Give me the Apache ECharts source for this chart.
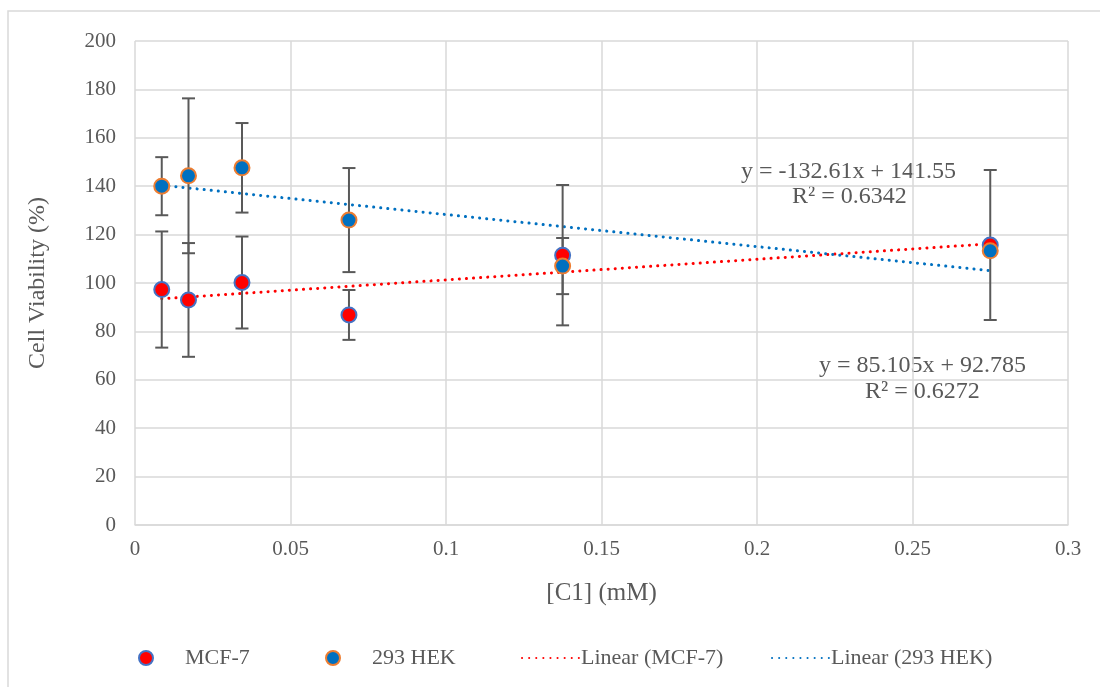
<!DOCTYPE html>
<html>
<head>
<meta charset="utf-8">
<script src="https://cdn.jsdelivr.net/npm/echarts@6/dist/echarts.min.js"></script>
<style>
  html, body { margin: 0; padding: 0; background: #fff; }
  #chart { width: 1100px; height: 687px; }
</style>
</head>
<body>
<div id="chart"></div>
<script>
// concentrations (mM)
var conc = [0.0086, 0.0172, 0.0344, 0.0688, 0.1375, 0.275];
// MCF-7 viability and error
var mcfVal = [97.3, 93.0, 100.2, 86.8, 111.5, 115.7];
var mcfErr = [24, 23.5, 19, 10.3, 29, 31];
// 293 HEK viability and error
var hekVal = [140.0, 144.3, 147.6, 126.0, 107.0, 113.3];
var hekErr = [12, 32, 18.5, 21.5, 11.6, 0];
// trendline end points
var mcfTrend = [[0.0086, 93.5], [0.275, 116.2]];
var hekTrend = [[0.0086, 140.4], [0.275, 105.1]];

var font = 'Liberation Serif, Times New Roman, serif';
var grey = '#595959';

function pts(vals) {
    return conc.map(function (c, i) { return [c, vals[i]]; });
}
function errPts(vals, errs) {
    return conc.map(function (c, i) { return [c, vals[i], errs[i]]; });
}

function errorBars(params, api) {
    var x = api.value(0), y = api.value(1), e = api.value(2);
    var hi = api.coord([x, y + e]);
    var lo = api.coord([x, y - e]);
    var w = 6.5;
    var st = { stroke: grey, lineWidth: 2 };
    return {
        type: 'group',
        children: [
            { type: 'line', shape: { x1: hi[0], y1: hi[1], x2: lo[0], y2: lo[1] }, style: st },
            { type: 'line', shape: { x1: hi[0] - w, y1: hi[1], x2: hi[0] + w, y2: hi[1] }, style: st },
            { type: 'line', shape: { x1: lo[0] - w, y1: lo[1], x2: lo[0] + w, y2: lo[1] }, style: st }
        ]
    };
}

var chart = echarts.init(document.getElementById('chart'));

var legendText = { fontFamily: font, fontSize: 22, color: grey };
function mkLegend(left, w, item, pad) {
    var lg = {
        left: left,
        bottom: 13,
        itemWidth: w,
        itemHeight: 14,
        selectedMode: false,
        textStyle: Object.assign({}, legendText, { padding: [0, 0, 0, pad] }),
        data: [item]
    };
    // hide the symbol drawn on the line icons
    if (w > 20) lg.itemStyle = { opacity: 0 };
    return lg;
}

var option = {
    animation: false,
    graphic: [{
        type: 'rect',
        shape: { x: 8, y: 11, width: 1100, height: 690 },
        style: { fill: 'none', stroke: '#d9d9d9', lineWidth: 1.5 },
        silent: true
    }, {
        type: 'text', left: 741, top: 160,
        style: { text: 'y = -132.61x + 141.55', font: '24px ' + font, fill: grey }
    }, {
        type: 'text', left: 792, top: 185,
        style: { text: 'R² = 0.6342', font: '24px ' + font, fill: grey }
    }, {
        type: 'text', left: 819, top: 354,
        style: { text: 'y = 85.105x + 92.785', font: '24px ' + font, fill: grey }
    }, {
        type: 'text', left: 865, top: 380,
        style: { text: 'R² = 0.6272', font: '24px ' + font, fill: grey }
    }],
    grid: { left: 135, right: 32, top: 41, bottom: 162 },
    legend: [
        mkLegend(133, 14, { name: 'MCF-7', icon: 'circle' }, 27),
        mkLegend(320, 14, { name: '293 HEK', icon: 'circle' }, 27),
        mkLegend(516, 58, 'Linear (MCF-7)', -4),
        mkLegend(766, 58, 'Linear (293 HEK)', -4)
    ],
    xAxis: {
        type: 'value', min: 0, max: 0.3, interval: 0.05,
        name: '[C1] (mM)', nameLocation: 'middle', nameGap: 56,
        nameTextStyle: { fontFamily: font, fontSize: 25, color: grey },
        axisLine: { lineStyle: { color: '#d9d9d9', width: 1.5 } },
        axisTick: { show: false },
        axisLabel: { fontFamily: font, fontSize: 21, color: grey, margin: 14 },
        splitLine: { lineStyle: { color: '#d9d9d9', width: 1.5 } }
    },
    yAxis: {
        type: 'value', min: 0, max: 200, interval: 20,
        name: 'Cell Viability (%)', nameLocation: 'middle', nameGap: 85,
        nameTextStyle: { fontFamily: font, fontSize: 24, color: grey },
        axisLine: { show: false },
        axisTick: { show: false },
        axisLabel: { fontFamily: font, fontSize: 21, color: grey, margin: 19 },
        splitLine: { lineStyle: { color: '#d9d9d9', width: 1.5 } }
    },
    series: [{
        name: 'Linear (MCF-7)',
        type: 'line',
        data: mcfTrend,
        symbol: 'none',
        lineStyle: { color: '#ff0000', width: 3, type: [0.1, 7], cap: 'round' },
        itemStyle: { color: '#ff0000' },
        z: 3
    }, {
        name: 'Linear (293 HEK)',
        type: 'line',
        data: hekTrend,
        symbol: 'none',
        lineStyle: { color: '#0070c0', width: 3, type: [0.1, 7], cap: 'round' },
        itemStyle: { color: '#0070c0' },
        z: 3
    }, {
        type: 'custom',
        data: errPts(mcfVal, mcfErr),
        renderItem: errorBars,
        z: 4
    }, {
        type: 'custom',
        data: errPts(hekVal, hekErr),
        renderItem: errorBars,
        z: 4
    }, {
        name: 'MCF-7',
        type: 'scatter',
        data: pts(mcfVal),
        symbolSize: 15,
        itemStyle: { color: '#ff0000', borderColor: '#4472c4', borderWidth: 2, opacity: 1 },
        z: 5
    }, {
        name: '293 HEK',
        type: 'scatter',
        data: pts(hekVal),
        symbolSize: 15,
        itemStyle: { color: '#0070c0', borderColor: '#ed7d31', borderWidth: 2, opacity: 1 },
        z: 5
    }]
};

chart.setOption(option);
</script>
</body>
</html>
